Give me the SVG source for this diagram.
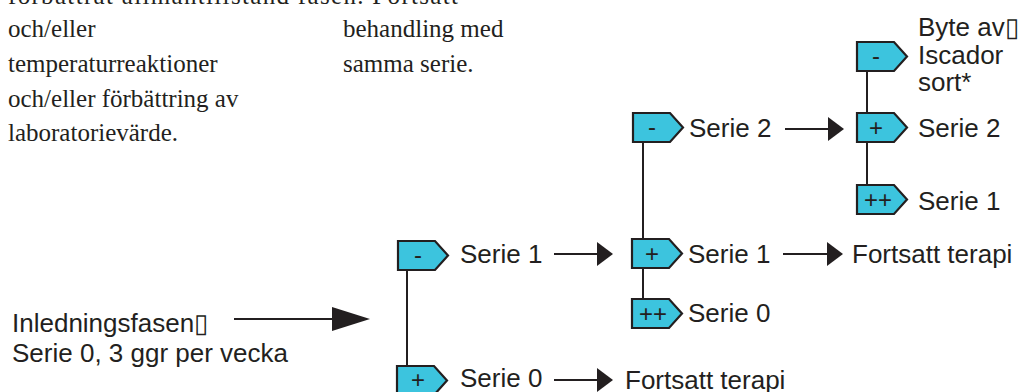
<svg xmlns="http://www.w3.org/2000/svg" width="1020" height="392" viewBox="0 0 1020 392">
<style>
.serif{font-family:"Liberation Serif","Times New Roman",serif;font-size:25px;fill:#231f20}
.lbl{font-family:"Liberation Sans",Arial,sans-serif;font-size:26px;fill:#231f20}
.sym{font-family:"Liberation Sans",Arial,sans-serif;font-size:24px;fill:#231f20;text-anchor:middle}
.tag{fill:#3cc4de;stroke:#231f20;stroke-width:2.2;stroke-linejoin:miter}
.ln{stroke:#231f20;stroke-width:2;fill:none}
</style>
<defs>
<path id="tagshape" class="tag" d="M0,0 H37 L50,14.5 L37,29 H0 Z"/>
<marker id="ah" markerUnits="userSpaceOnUse" markerWidth="16" markerHeight="24" refX="10" refY="12" orient="auto">
<path d="M0,0 L16,12 L0,24 Z" fill="#231f20"/>
</marker>
<marker id="ahbig" markerUnits="userSpaceOnUse" markerWidth="38" markerHeight="24" refX="32" refY="12" orient="auto">
<path d="M0,0 L38,12 L0,24 Z" fill="#231f20"/>
</marker>
</defs>
<rect width="1020" height="392" fill="#ffffff"/>
<g id="intro-text">
<text class="serif" x="8" y="4" textLength="450" lengthAdjust="spacing">förbättrat allmäntillstånd fasen. Fortsatt</text>
<text class="serif" x="8" y="37">och/eller</text>
<text class="serif" x="8" y="72">temperaturreaktioner</text>
<text class="serif" x="8" y="107">och/eller förbättring av</text>
<text class="serif" x="8" y="141">laboratorievärde.</text>
<text class="serif" x="343" y="37">behandling med</text>
<text class="serif" x="343" y="72">samma serie.</text>
</g>
<g id="connectors">
<line class="ln" x1="407" y1="269" x2="407" y2="366"/>
<line class="ln" x1="643" y1="142" x2="643" y2="299"/>
<line class="ln" x1="867" y1="71" x2="867" y2="185"/>
<line class="ln" x1="234" y1="319" x2="364" y2="319" marker-end="url(#ahbig)"/>
<line class="ln" x1="554" y1="254" x2="607" y2="254" marker-end="url(#ah)"/>
<line class="ln" x1="554" y1="380" x2="607" y2="380" marker-end="url(#ah)"/>
<line class="ln" x1="783" y1="254" x2="837" y2="254" marker-end="url(#ah)"/>
<line class="ln" x1="785" y1="129" x2="838" y2="129" marker-end="url(#ah)"/>
</g>
<g id="start">
<text class="lbl" x="12" y="332">Inledningsfasen▯</text>
<text class="lbl" x="12" y="362">Serie 0, 3 ggr per vecka</text>
</g>
<g id="n-minus-serie1">
<use href="#tagshape" x="398" y="241"/>
<text class="sym" x="418" y="263">-</text>
<text class="lbl" x="460" y="263">Serie 1</text>
</g>
<g id="n-plus-serie0">
<use href="#tagshape" x="397" y="366"/>
<text class="sym" x="418" y="388">+</text>
<text class="lbl" x="460" y="387">Serie 0</text>
</g>
<g id="n-fortsatt-1">
<text class="lbl" x="625" y="389">Fortsatt terapi</text>
</g>
<g id="n-minus-serie2">
<use href="#tagshape" x="633" y="113"/>
<text class="sym" x="652" y="135">-</text>
<text class="lbl" x="689" y="137">Serie 2</text>
</g>
<g id="n-plus-serie1">
<use href="#tagshape" x="632" y="239"/>
<text class="sym" x="652" y="262">+</text>
<text class="lbl" x="688" y="263">Serie 1</text>
</g>
<g id="n-pp-serie0">
<use href="#tagshape" x="632" y="299"/>
<text class="sym" x="653" y="322">++</text>
<text class="lbl" x="688" y="322">Serie 0</text>
</g>
<g id="n-fortsatt-2">
<text class="lbl" x="852" y="263">Fortsatt terapi</text>
</g>
<g id="n-minus-byte">
<use href="#tagshape" x="857" y="42"/>
<text class="sym" x="876" y="64">-</text>
<text class="lbl" x="918" y="36">Byte av▯</text>
<text class="lbl" x="918" y="64">Iscador</text>
<text class="lbl" x="918" y="91">sort*</text>
</g>
<g id="n-plus-serie2">
<use href="#tagshape" x="857" y="113"/>
<text class="sym" x="876" y="136">+</text>
<text class="lbl" x="918" y="137">Serie 2</text>
</g>
<g id="n-pp-serie1">
<use href="#tagshape" x="857" y="185"/>
<text class="sym" x="878" y="208">++</text>
<text class="lbl" x="918" y="210">Serie 1</text>
</g>
</svg>
